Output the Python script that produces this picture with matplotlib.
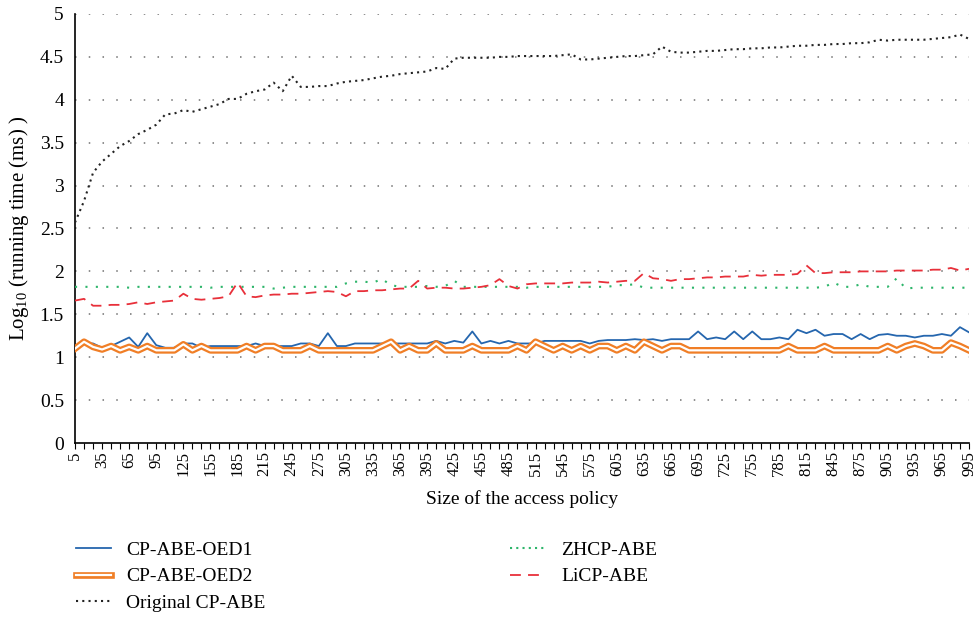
import matplotlib
matplotlib.use("Agg")
import matplotlib.pyplot as plt
from matplotlib.lines import Line2D
from matplotlib.legend_handler import HandlerTuple

plt.rcParams['font.family'] = ['Liberation Serif', 'DejaVu Serif']
plt.rcParams['mathtext.fontset'] = 'custom'
plt.rcParams['mathtext.rm'] = 'Liberation Serif'

policy_size = list(range(5, 1000, 10))

oed1 = [1.12, 1.16, 1.16, 1.11, 1.13, 1.18, 1.23, 1.12, 1.28, 1.14,
        1.11, 1.11, 1.16, 1.16, 1.11, 1.13, 1.13, 1.13, 1.13, 1.13,
        1.16, 1.13, 1.13, 1.13, 1.13, 1.16, 1.16, 1.13, 1.28, 1.13,
        1.13, 1.16, 1.16, 1.16, 1.16, 1.16, 1.16, 1.16, 1.16, 1.16,
        1.19, 1.16, 1.19, 1.17, 1.30, 1.16, 1.19, 1.16, 1.19, 1.16,
        1.16, 1.16, 1.19, 1.19, 1.19, 1.19, 1.19, 1.16, 1.19, 1.20,
        1.20, 1.20, 1.21, 1.20, 1.21, 1.19, 1.21, 1.21, 1.21, 1.30,
        1.21, 1.23, 1.21, 1.30, 1.21, 1.30, 1.21, 1.21, 1.23, 1.21,
        1.32, 1.28, 1.32, 1.25, 1.27, 1.27, 1.21, 1.27, 1.21, 1.26,
        1.27, 1.25, 1.25, 1.23, 1.25, 1.25, 1.27, 1.25, 1.35, 1.29]

oed2 = [1.10, 1.18, 1.12, 1.09, 1.13, 1.08, 1.12, 1.08, 1.13, 1.08,
        1.08, 1.08, 1.15, 1.08, 1.13, 1.08, 1.08, 1.08, 1.08, 1.13,
        1.08, 1.13, 1.13, 1.08, 1.08, 1.08, 1.13, 1.08, 1.08, 1.08,
        1.08, 1.08, 1.08, 1.08, 1.13, 1.18, 1.08, 1.13, 1.08, 1.08,
        1.16, 1.08, 1.08, 1.08, 1.13, 1.08, 1.08, 1.08, 1.08, 1.13,
        1.08, 1.18, 1.13, 1.08, 1.13, 1.08, 1.13, 1.08, 1.13, 1.13,
        1.08, 1.13, 1.08, 1.18, 1.13, 1.08, 1.13, 1.13, 1.08, 1.08,
        1.08, 1.08, 1.08, 1.08, 1.08, 1.08, 1.08, 1.08, 1.08, 1.13,
        1.08, 1.08, 1.08, 1.13, 1.08, 1.08, 1.08, 1.08, 1.08, 1.08,
        1.13, 1.08, 1.13, 1.16, 1.13, 1.08, 1.08, 1.17, 1.13, 1.08]

original = [2.57, 2.82, 3.15, 3.28, 3.37, 3.46, 3.52, 3.60, 3.65, 3.71,
            3.83, 3.84, 3.88, 3.86, 3.89, 3.92, 3.95, 4.01, 4.01, 4.07,
            4.10, 4.12, 4.20, 4.10, 4.28, 4.15, 4.15, 4.16, 4.16, 4.19,
            4.21, 4.22, 4.23, 4.25, 4.27, 4.28, 4.30, 4.31, 4.32, 4.33,
            4.37, 4.36, 4.48, 4.49, 4.49, 4.49, 4.49, 4.50, 4.50, 4.51,
            4.51, 4.51, 4.51, 4.51, 4.52, 4.53, 4.47, 4.47, 4.48, 4.49,
            4.50, 4.51, 4.51, 4.52, 4.53, 4.62, 4.56, 4.55, 4.55, 4.56,
            4.57, 4.57, 4.58, 4.59, 4.59, 4.60, 4.60, 4.61, 4.61, 4.62,
            4.63, 4.63, 4.64, 4.64, 4.65, 4.65, 4.66, 4.66, 4.67, 4.70,
            4.69, 4.70, 4.70, 4.70, 4.70, 4.71, 4.72, 4.73, 4.76, 4.71]

zhcp = [1.82, 1.82, 1.82, 1.82, 1.82, 1.82, 1.81, 1.82, 1.82, 1.82,
        1.82, 1.82, 1.82, 1.82, 1.82, 1.81, 1.82, 1.82, 1.82, 1.82,
        1.82, 1.82, 1.80, 1.81, 1.82, 1.82, 1.82, 1.82, 1.82, 1.82,
        1.86, 1.88, 1.88, 1.87, 1.91, 1.84, 1.82, 1.82, 1.82, 1.83,
        1.82, 1.83, 1.89, 1.82, 1.82, 1.82, 1.82, 1.82, 1.82, 1.82,
        1.81, 1.82, 1.82, 1.82, 1.82, 1.82, 1.82, 1.82, 1.82, 1.82,
        1.84, 1.84, 1.85, 1.81, 1.81, 1.81, 1.81, 1.81, 1.81, 1.81,
        1.81, 1.81, 1.81, 1.81, 1.81, 1.81, 1.81, 1.81, 1.81, 1.81,
        1.81, 1.81, 1.81, 1.82, 1.87, 1.82, 1.82, 1.85, 1.82, 1.82,
        1.82, 1.92, 1.80, 1.81, 1.81, 1.81, 1.81, 1.81, 1.81, 1.81]

licp = [1.66, 1.68, 1.60, 1.60, 1.61, 1.61, 1.62, 1.64, 1.62, 1.64,
        1.65, 1.66, 1.74, 1.68, 1.67, 1.68, 1.69, 1.71, 1.87, 1.71,
        1.70, 1.72, 1.73, 1.73, 1.74, 1.74, 1.75, 1.76, 1.77, 1.76,
        1.71, 1.77, 1.77, 1.78, 1.78, 1.79, 1.80, 1.80, 1.89, 1.80,
        1.81, 1.81, 1.80, 1.80, 1.81, 1.82, 1.84, 1.91, 1.83, 1.80,
        1.85, 1.86, 1.86, 1.86, 1.86, 1.87, 1.87, 1.87, 1.88, 1.87,
        1.88, 1.89, 1.89, 1.98, 1.92, 1.91, 1.89, 1.91, 1.91, 1.92,
        1.93, 1.93, 1.94, 1.94, 1.94, 1.96, 1.95, 1.96, 1.96, 1.96,
        1.97, 2.07, 1.98, 1.98, 1.99, 1.99, 1.99, 2.00, 2.00, 2.00,
        2.00, 2.01, 2.01, 2.01, 2.01, 2.02, 2.02, 2.04, 2.01, 2.03]

y_ticks = [0, 0.5, 1, 1.5, 2, 2.5, 3, 3.5, 4, 4.5, 5]
y_tick_labels = ['0', '0.5', '1', '1.5', '2', '2.5', '3', '3.5', '4', '4.5', '5']

fig = plt.figure(figsize=(9.77, 6.33), dpi=100)
ax = fig.add_axes([75 / 977, 1 - 443 / 633, (969 - 75) / 977, (443 - 14) / 633])

# gridlines
for yv in y_ticks[1:]:
    ax.axhline(yv, color='#707070', lw=1.1, ls=(0, (1, 8)), zorder=1)

blue = '#2566AE'
orange = '#F07E26'
green = '#2DB56A'
red = '#E8303A'

ax.plot(policy_size, oed1, color=blue, lw=1.3, zorder=3)
ax.plot(policy_size, oed2, color=orange, lw=4.8, zorder=4, solid_joinstyle='round')
ax.plot(policy_size, oed2, color='white', lw=1.6, zorder=5, solid_joinstyle='round')
ax.plot(policy_size, original, color='#222222', lw=1.5, ls=(0, (1, 2)), zorder=3)
ax.plot(policy_size, zhcp, color=green, lw=1.5, ls=(0, (1, 4)), zorder=3)
ax.plot(policy_size, licp, color=red, lw=1.3, ls=(0, (6, 4)), zorder=3)

ax.set_xlim(policy_size[0], policy_size[-1])
ax.set_ylim(0, 5)
ax.set_yticks(y_ticks)
ax.set_yticklabels(y_tick_labels, fontsize=14)
ax.set_xticks(policy_size)
ax.set_xticklabels([str(v) if i % 3 == 0 else '' for i, v in enumerate(policy_size)],
                   rotation=90, fontsize=12)
ax.tick_params(axis='y', length=0, pad=8)
ax.tick_params(axis='x', length=4, width=0.8, pad=2, direction='out')

for s in ['top', 'right']:
    ax.spines[s].set_visible(False)
ax.spines['left'].set_color('black')
ax.spines['left'].set_linewidth(1.2)
ax.spines['bottom'].set_color('black')
ax.spines['bottom'].set_linewidth(1.2)

ax.set_ylabel('Log$_{10}$ (running time (ms) )', fontsize=15, labelpad=6)
ax.set_xlabel('Size of the access policy', fontsize=14, labelpad=10)

h1 = Line2D([], [], color=blue, lw=1.3)
h2a = Line2D([], [], color=orange, lw=4.8)
h2b = Line2D([], [], color='white', lw=1.6)
h3 = Line2D([], [], color='#222222', lw=1.5, ls=(0, (1, 2)))
h4 = Line2D([], [], color=green, lw=1.5, ls=(0, (1, 2)))
h5 = Line2D([], [], color=red, lw=1.3, ls=(0, (6, 4)))

leg = fig.legend([h1, (h2a, h2b), h3, h4, h5],
                 ['CP-ABE-OED1', 'CP-ABE-OED2', 'Original CP-ABE', 'ZHCP-ABE', 'LiCP-ABE'],
                 handler_map={tuple: HandlerTuple(ndivide=1, pad=0)},
                 ncol=2, loc='upper left', bbox_to_anchor=(58 / 977, 1 - 524 / 633),
                 frameon=False, fontsize=14, handlelength=1.8, handletextpad=0.8,
                 columnspacing=12.6, labelspacing=0.45)

fig.savefig('out.png', dpi=100)
